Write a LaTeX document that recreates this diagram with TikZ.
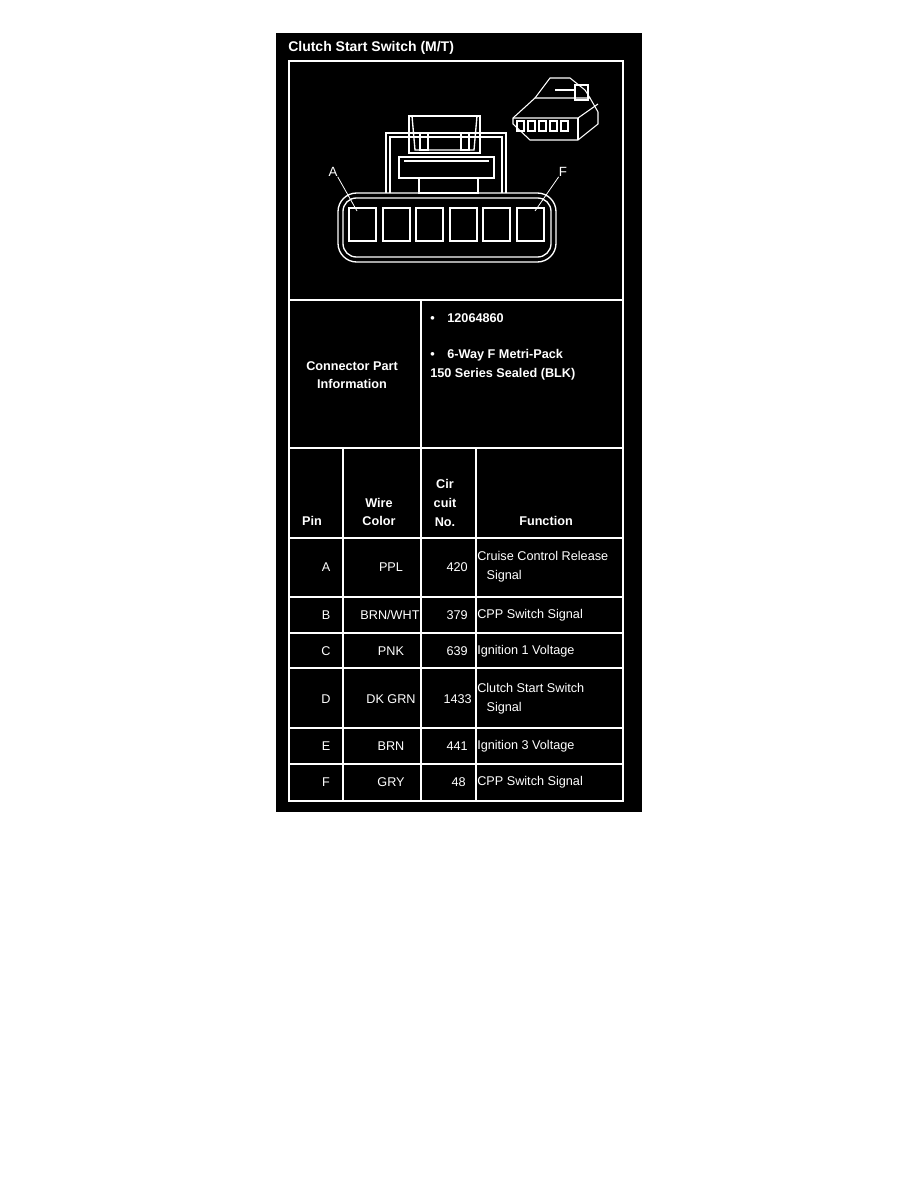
\documentclass[tikz,border=0pt]{standalone}
\usepackage{fontspec}
\setmainfont{Liberation Sans}
\begin{document}
\begin{tikzpicture}[x=0.75pt,y=-0.75pt,
  ln/.style={draw=white,line width=1pt},
  tx/.style={text=white,font=\fontsize{9.5}{12}\selectfont,inner sep=0pt},
  bt/.style={text=white,font=\bfseries\fontsize{9.5}{14}\selectfont,inner sep=0pt}]
\useasboundingbox (0,0) rectangle (918,1188);
\fill[black] (276,33) rectangle (642,812);
\node[text=white,font=\bfseries\fontsize{10.5}{12}\selectfont,anchor=west,inner sep=0pt] (title) at (288,48) {Clutch Start Switch (M/T)};
% frame
\draw[ln] (289,61) rectangle (623,801);
\draw[ln] (289,300) -- (623,300);
\draw[ln] (421,300) -- (421,448);
\draw[ln] (289,448) -- (623,448);
\foreach \x in {343,421,476} \draw[ln] (\x,448) -- (\x,801);
\foreach \y in {538,597,633,668,728,764} \draw[ln] (289,\y) -- (623,\y);
% connector face
\draw[ln,rounded corners=14pt] (338,193) rectangle (556,262);
\draw[ln,rounded corners=10pt] (343,198) rectangle (551,257);
\draw[ln] (386,193) -- (386,133) -- (506,133) -- (506,193);
\draw[ln] (390,193) -- (390,137) -- (502,137) -- (502,193);
\draw[ln] (409,116) rectangle (480,153);
\draw[ln] (412,116) -- (415,150) -- (474,150) -- (477,116);
\draw[ln] (420,133) rectangle (428,150); \draw[ln] (461,133) rectangle (469,150);
\draw[ln] (428,133) -- (461,133);
\draw[ln] (399,157) rectangle (494,178);
\draw[ln] (404,161) -- (489,161);
\draw[ln] (419,178) rectangle (478,193);
\foreach \x/\n in {349/pA,383/pB,416/pC,450/pD,483/pE,517/pF}
  \draw[ln] (\x,208) rectangle +(27,33) coordinate (\n);
\coordinate (pAc) at (357,211); \coordinate (pFc) at (535,211);
\node[tx,font=\fontsize{10}{12}\selectfont] (la) at (333,172) {A};
\node[tx,font=\fontsize{10}{12}\selectfont] (lf) at (563,172) {F};
\draw[white,line width=0.6pt] (la.south east) -- (pAc);
\draw[white,line width=0.6pt] (lf.south west) -- (pFc);
% small 3D connector
\begin{scope}[line width=0.8pt,draw=white]
\draw[white] (513,118) -- (535,98) -- (590,98) -- (598,112) -- (598,124) -- (578,140) -- (530,140) -- (513,124) -- cycle;
\draw[white] (513,118) -- (578,118) -- (598,104);
\draw[white] (578,118) -- (578,140);
\foreach \i in {0,...,4} \draw[white] (517+\i*11,121) rectangle +(7,10);
\draw[white] (535,98) -- (550,78) -- (570,78) -- (585,90) -- (590,98);
\draw[white] (555,90) -- (575,90) -- (575,98);
\draw[white] (575,85) rectangle (588,100);
\end{scope}
% part info
\node[tx,align=center,font=\bfseries\fontsize{9.5}{14}\selectfont] (cpi) at (352,375) {Connector Part\\Information};
\node[bt,anchor=west] (b1) at (430,318) {•\quad 12064860};
\node[bt,anchor=west,align=left] (b2) at (430,365) {•\quad 6-Way F Metri-Pack\\150 Series Sealed (BLK)};
% header
\node[bt] (h1) at (312,521) {Pin};
\node[bt,align=center] (h2) at (379,512) {Wire\\Color};
\node[bt,align=center] (h3) at (445,503) {Cir\\cuit\\No.};
\node[bt] (h4) at (546,521) {Function};
% rows
\foreach \y/\p/\c/\n [count=\i] in {567/A/PPL/420,615/B/BRN/WHT/379,651/C/PNK/639,699/D/DK GRN/1433,746/E/BRN/441,782/F/GRY/48}{}
\node[tx] (rA) at (326,567) {A}; \node[tx] (cA) at (391,567) {PPL}; \node[tx,anchor=east] (nA) at (468,567) {420};
\node[tx,anchor=west,align=left] (fA) at (477,567) {Cruise Control Release\\[2pt]\hspace{7pt}Signal};
\node[tx] (rB) at (326,615) {B}; \node[tx] (cB) at (390,615) {BRN/WHT}; \node[tx,anchor=east] (nB) at (468,615) {379};
\node[tx,anchor=west] (fB) at (477,615) {CPP Switch Signal};
\node[tx] (rC) at (326,651) {C}; \node[tx] (cC) at (391,651) {PNK}; \node[tx,anchor=east] (nC) at (468,651) {639};
\node[tx,anchor=west] (fC) at (477,651) {Ignition 1 Voltage};
\node[tx] (rD) at (326,699) {D}; \node[tx] (cD) at (391,699) {DK GRN}; \node[tx,anchor=east] (nD) at (472,699) {1433};
\node[tx,anchor=west,align=left] (fD) at (477,699) {Clutch Start Switch\\[2pt]\hspace{7pt}Signal};
\node[tx] (rE) at (326,746) {E}; \node[tx] (cE) at (391,746) {BRN}; \node[tx,anchor=east] (nE) at (468,746) {441};
\node[tx,anchor=west] (fE) at (477,746) {Ignition 3 Voltage};
\node[tx] (rF) at (326,782) {F}; \node[tx] (cF) at (391,782) {GRY}; \node[tx,anchor=east] (nF) at (466,782) {48};
\node[tx,anchor=west] (fF) at (477,782) {CPP Switch Signal};
\end{tikzpicture}
\end{document}
